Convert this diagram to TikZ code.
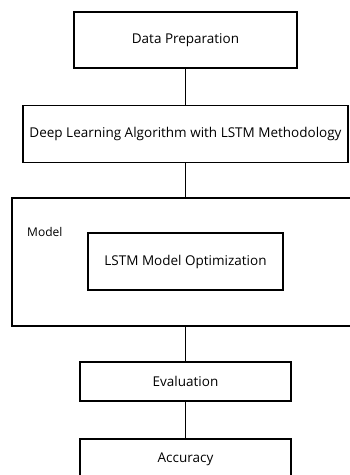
\documentclass[tikz,border=0pt]{standalone}
\usepackage{fontspec}
\setmainfont{Open Sans}
\begin{document}
\begin{tikzpicture}[x=1pt,y=-1pt,
    stage/.style={draw,line width=1.8pt,inner sep=0pt,font=\fontsize{13.5}{16}\selectfont},
    link/.style={line width=1.8pt}]
    \clip (0,0) rectangle (350,475);
    \node[stage,minimum width=223,minimum height=56] (prep) at (185.5,40) {Data Preparation};
    \node[stage,minimum width=325,minimum height=57] (algo) at (185.5,134) {Deep Learning Algorithm with LSTM Methodology};
    \node[stage,minimum width=350,minimum height=128] (model) at (187,262) {};
    \node[anchor=base west,inner sep=0pt,font=\fontsize{12}{14}\selectfont] (modellbl) at (27,236.5) {Model};
    \node[stage,minimum width=195,minimum height=57] (lstm) at (185.5,261.5) {LSTM Model Optimization};
    \node[stage,minimum width=211,minimum height=39] (eval) at (185.5,381.5) {Evaluation};
    \node[stage,minimum width=211,minimum height=40] (acc) at (185.5,459) {Accuracy};
    \draw[link] (prep) -- (algo);
    \draw[link] (algo.south) -- (algo.south |- model.north);
    \draw[link] (eval.north |- model.south) -- (eval.north);
    \draw[link] (eval) -- (acc);
\end{tikzpicture}
\end{document}
